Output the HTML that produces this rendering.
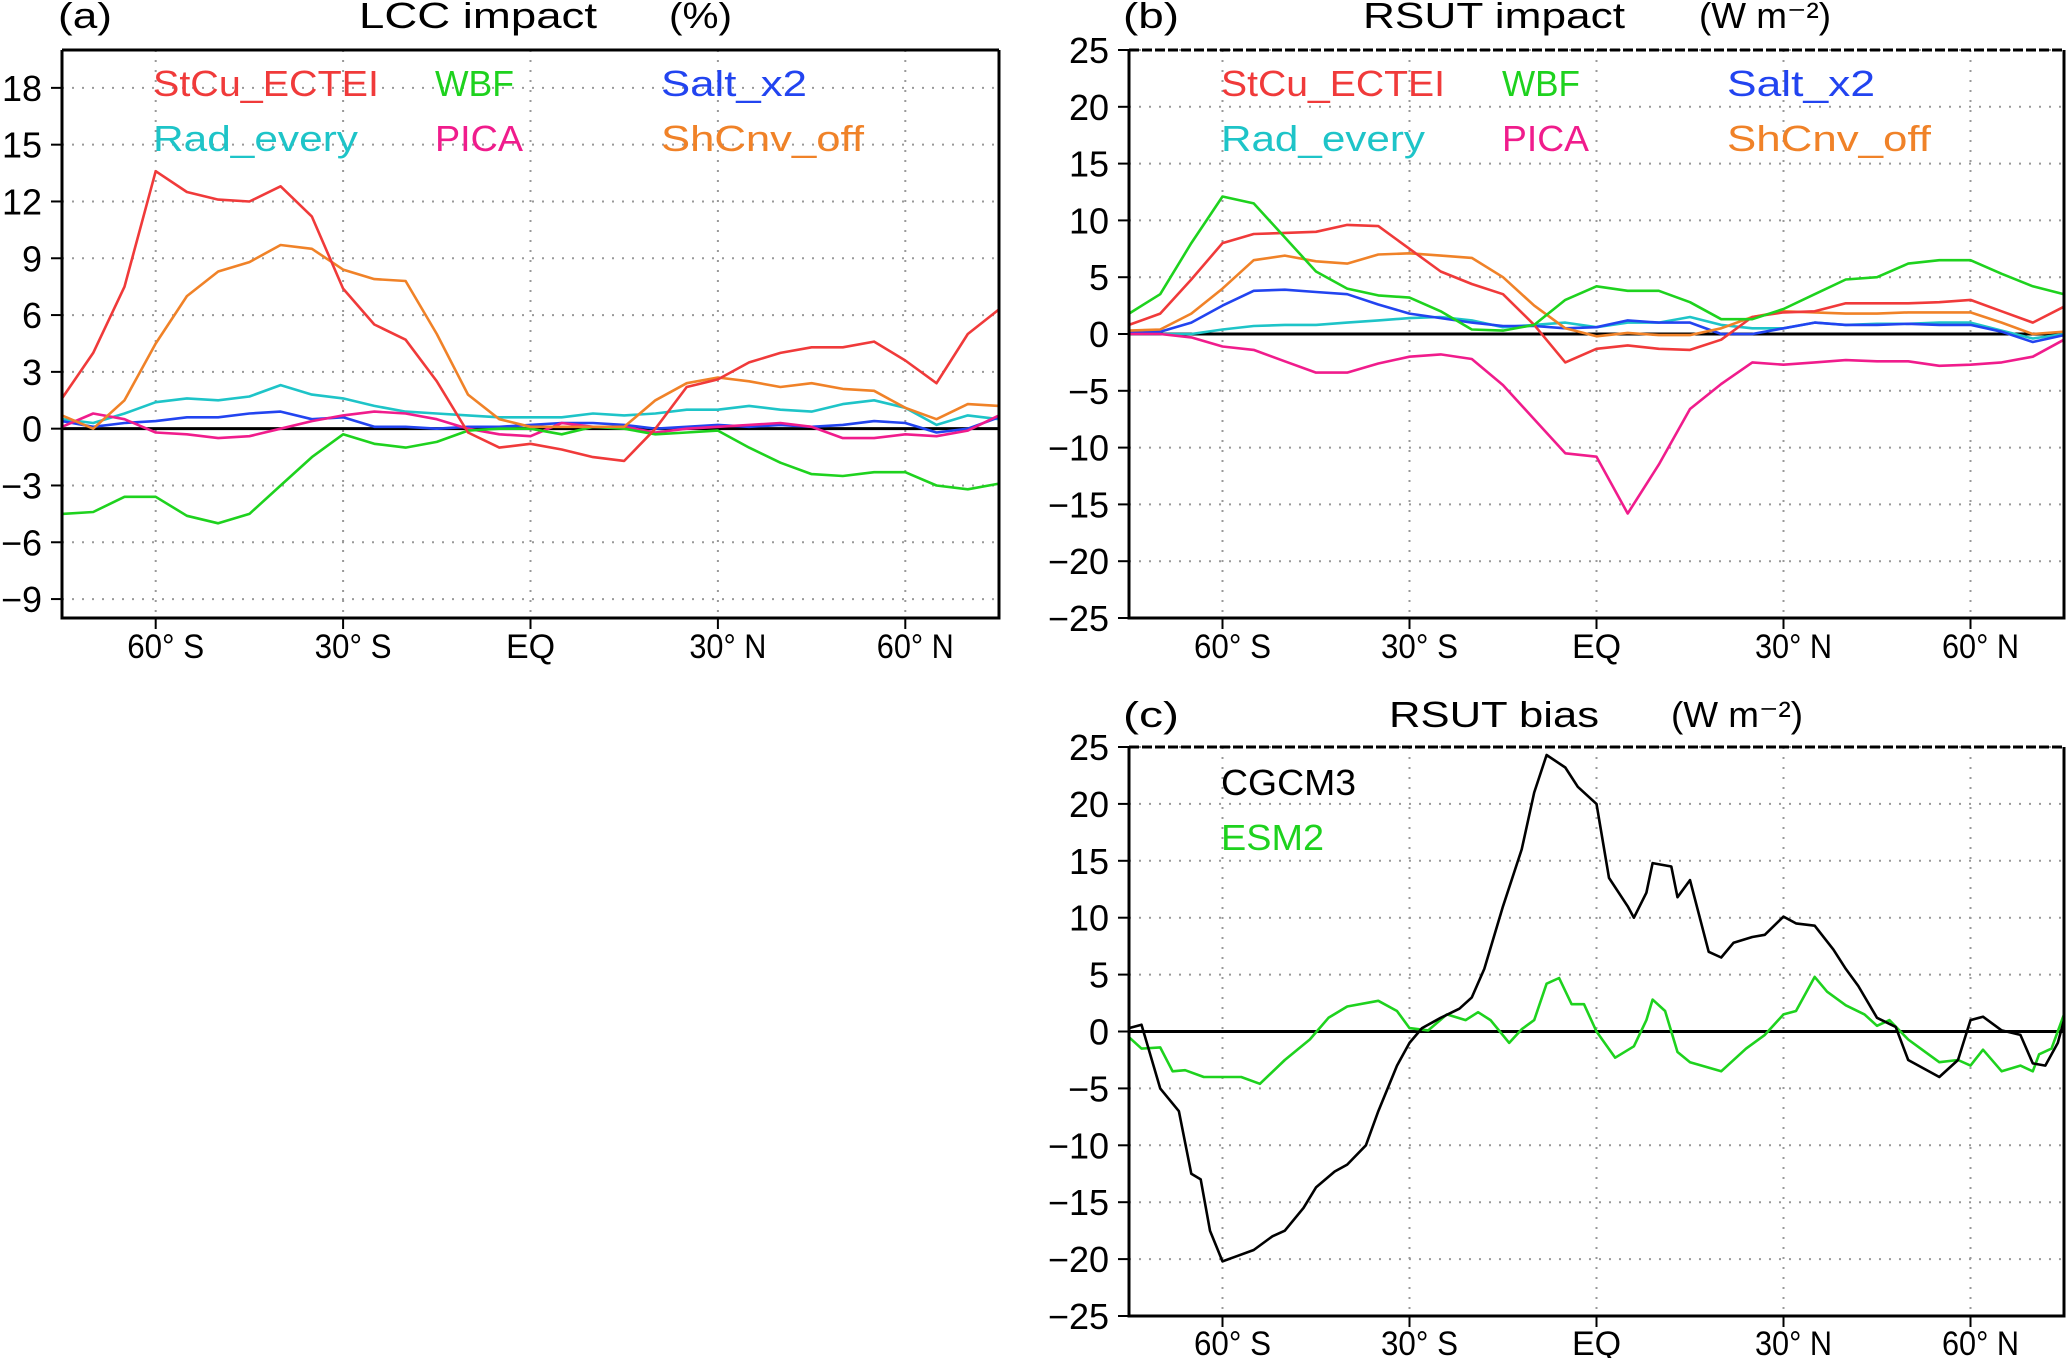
<!DOCTYPE html>
<html><head><meta charset="utf-8"><style>
html,body{margin:0;padding:0;background:#fff;}
svg text{font-family:"Liberation Sans",sans-serif;fill:#000;}
</style></head><body>
<svg id="fig" width="2067" height="1358" viewBox="0 0 2067 1358" xmlns="http://www.w3.org/2000/svg"></svg>
<script>
// ---- shared latitude grid (5 degree steps) ----
const lats5 = [-75,-70,-65,-60,-55,-50,-45,-40,-35,-30,-25,-20,-15,-10,-5,0,5,10,15,20,25,30,35,40,45,50,55,60,65,70,75];
const xTickVals = [-60,-30,0,30,60];
const xTickLabels = ["60° S","30° S","EQ","30° N","60° N"];
// ---- panel (a) LCC impact (%) ----
const aTicks = [-9,-6,-3,0,3,6,9,12,15,18];
const aStCu = [1.6,4,7.5,13.6,12.5,12.1,12.0,12.8,11.2,7.4,5.5,4.7,2.5,-0.2,-1.0,-0.8,-1.1,-1.5,-1.7,0,2.2,2.6,3.5,4.0,4.3,4.3,4.6,3.6,2.4,5,6.3];
const aWBF = [-4.5,-4.4,-3.6,-3.6,-4.6,-5.0,-4.5,-3.0,-1.5,-0.3,-0.8,-1.0,-0.7,-0.1,0.0,0.0,-0.3,0.1,0.0,-0.3,-0.2,-0.1,-1.0,-1.8,-2.4,-2.5,-2.3,-2.3,-3.0,-3.2,-2.9];
const aSalt = [0.4,0.1,0.3,0.4,0.6,0.6,0.8,0.9,0.5,0.6,0.1,0.1,0,0.1,0.1,0.2,0.3,0.3,0.2,0,0.1,0.2,0.1,0.2,0.1,0.2,0.4,0.3,-0.2,0,0.6];
const aRad = [0.5,0.3,0.8,1.4,1.6,1.5,1.7,2.3,1.8,1.6,1.2,0.9,0.8,0.7,0.6,0.6,0.6,0.8,0.7,0.8,1.0,1.0,1.2,1.0,0.9,1.3,1.5,1.1,0.2,0.7,0.5];
const aPICA = [0.1,0.8,0.5,-0.2,-0.3,-0.5,-0.4,0,0.4,0.7,0.9,0.8,0.5,0.0,-0.3,-0.4,0.3,0.1,0.1,-0.2,0,0.1,0.2,0.3,0.1,-0.5,-0.5,-0.3,-0.4,-0.1,0.7];
const aShCnv = [0.7,0,1.5,4.5,7,8.3,8.8,9.7,9.5,8.4,7.9,7.8,5.0,1.8,0.5,0.1,0.1,0.1,0.1,1.5,2.4,2.7,2.5,2.2,2.4,2.1,2.0,1.1,0.5,1.3,1.2];
// ---- panel (b) RSUT impact ----
const bTicks = [-25,-20,-15,-10,-5,0,5,10,15,20,25];
const bStCu = [0.8,1.8,4.8,8,8.8,8.9,9.0,9.6,9.5,7.5,5.5,4.4,3.5,0.8,-2.5,-1.3,-1.0,-1.3,-1.4,-0.5,1.5,1.9,2.0,2.7,2.7,2.7,2.8,3.0,2.0,1.0,2.4];
const bWBF = [1.8,3.5,8,12.1,11.5,8.5,5.5,4,3.4,3.2,2,0.4,0.3,0.8,3,4.2,3.8,3.8,2.8,1.3,1.3,2.2,3.5,4.8,5.0,6.2,6.5,6.5,5.3,4.2,3.5];
const bSalt = [0.1,0.2,1.0,2.5,3.8,3.9,3.7,3.5,2.6,1.8,1.4,1.0,0.7,0.7,0.5,0.6,1.2,1.0,1.0,0.0,0.0,0.5,1.0,0.8,0.8,0.9,0.8,0.8,0.2,-0.7,-0.1];
const bRad = [0,0,0,0.4,0.7,0.8,0.8,1.0,1.2,1.4,1.5,1.2,0.6,0.8,1.0,0.6,1.0,1.0,1.5,0.8,0.5,0.5,1.0,0.8,0.9,0.9,1.0,1.0,0.3,-0.4,0];
const bPICA = [0,0,-0.3,-1.1,-1.4,-2.4,-3.4,-3.4,-2.6,-2.0,-1.8,-2.2,-4.5,-7.5,-10.5,-10.8,-15.8,-11.5,-6.6,-4.4,-2.5,-2.7,-2.5,-2.3,-2.4,-2.4,-2.8,-2.7,-2.5,-2.0,-0.5];
const bShCnv = [0.3,0.4,1.8,4,6.5,6.9,6.4,6.2,7.0,7.1,6.9,6.7,5.0,2.5,0.5,-0.2,0.1,-0.1,-0.1,0.5,1.5,2.0,1.9,1.8,1.8,1.9,1.9,1.9,1.0,0,0.2];
// ---- panel (c) RSUT bias ----
const cLatsCG = [-75,-73,-70,-67,-65,-63.5,-62,-60,-58,-55,-52,-50,-47,-45,-42,-40,-37,-35,-32,-30,-28,-25,-22,-20,-18,-15,-12,-10,-8,-5,-3,0,2,5,6,8,9,12,13,15,18,20,22,25,27,30,32,35,38,40,42,45,48,50,55,58,60,62,65,68,70,72,74,75];
const cCGCM3 = [0.3,0.6,-5,-7,-12.5,-13,-17.5,-20.2,-19.8,-19.2,-18,-17.5,-15.5,-13.7,-12.3,-11.7,-10,-7,-3,-1,0.3,1.2,2.0,3.0,5.5,11,16,21,24.3,23.2,21.5,20,13.5,11,10,12.2,14.8,14.5,11.8,13.3,7,6.5,7.8,8.3,8.5,10.1,9.5,9.3,7.2,5.5,4,1.2,0.4,-2.5,-4.0,-2.5,1.0,1.3,0.1,-0.3,-2.8,-3,-1,1];
const cLatsES = [-75,-73,-70,-68,-66,-63,-60,-57,-54,-50,-46,-43,-40,-35,-32,-30,-27,-24,-21,-19,-17,-14,-12,-10,-8,-6,-4,-2,0,3,6,8,9,11,13,15,20,24,27,30,32,35,37,40,43,45,47,50,52,55,58,60,62,65,68,70,71,73,75];
const cESM2 = [-0.5,-1.5,-1.4,-3.5,-3.4,-4.0,-4.0,-4.0,-4.6,-2.5,-0.7,1.2,2.2,2.7,1.8,0.3,0.1,1.5,1.0,1.7,1.0,-1.0,0.2,1.0,4.2,4.7,2.4,2.4,0,-2.3,-1.3,1.0,2.8,1.8,-1.8,-2.7,-3.5,-1.5,-0.3,1.5,1.8,4.8,3.5,2.3,1.5,0.5,1.0,-0.7,-1.5,-2.7,-2.5,-3.0,-1.6,-3.5,-3.0,-3.5,-2.0,-1.5,1.5];

const NS = "http://www.w3.org/2000/svg";
const svg = document.getElementById('fig');
function el(tag, attrs, parent, txt){
  const e = document.createElementNS(NS, tag);
  for (const k in attrs) e.setAttribute(k, attrs[k]);
  if (txt !== undefined) e.textContent = txt;
  (parent||svg).appendChild(e);
  return e;
}
const COL = {red:'#f03a3a', green:'#1ed21e', blue:'#2244f0', cyan:'#1ec4c8', mag:'#f01c8c', orange:'#f08228', black:'#000'};

function panel(p){
  const g = el('g', {});
  
  
  const xs = v => p.x0 + (v - (-75)) / 150 * (p.x1 - p.x0);
  const ys = v => p.y1 - (v - p.ymin) / (p.ymax - p.ymin) * (p.y1 - p.y0);
  // gridlines
  xTickVals.forEach(v => {
    const l = el('line', {x1:xs(v), x2:xs(v), y1:p.y0, y2:p.y1, stroke:'#999', 'stroke-width':2, 'stroke-dasharray':'2 8'}, g);
    
    
  });
  p.yticks.forEach(v => {
    if (v === 0) return;
    const l = el('line', {x1:p.x0, x2:p.x1, y1:ys(v), y2:ys(v), stroke:'#999', 'stroke-width':2, 'stroke-dasharray':'2 8'}, g);
    
    
  });
  // y ticks and labels
  p.yticks.forEach(v => {
    el('line', {x1:p.x0-11, x2:p.x0, y1:ys(v), y2:ys(v), stroke:'#000', 'stroke-width':2}, g);
    const t = el('text', {x:p.x0-20, y:ys(v)+13, 'font-size':36, 'text-anchor':'end'}, g, v < 0 ? '\u2212' + Math.abs(v) : String(v));
    
    
  });
  // x ticks and labels
  xTickVals.forEach((v, i) => {
    el('line', {x1:xs(v), x2:xs(v), y1:p.y1, y2:p.y1+11, stroke:'#000', 'stroke-width':2}, g);
    const lab = xTickLabels[i];
    const isEQ = lab === 'EQ';
    const attrs = {x:xs(v) + (isEQ ? 0 : 10), y:p.xlabY, 'font-size':34, 'text-anchor':'middle'};
    if (!isEQ) { attrs.textLength = 77; attrs.lengthAdjust = 'spacingAndGlyphs'; }
    const t = el('text', attrs, g, lab);
    
    
  });
  // zero line
  const z = el('line', {x1:p.x0, x2:p.x1, y1:ys(0), y2:ys(0), stroke:'#000', 'stroke-width':3}, g);
  
  
  // series
  p.series.forEach(s => {
    const d = s.vals.map((v, i) => (i ? 'L' : 'M') + xs(s.lats[i]).toFixed(1) + ' ' + ys(v).toFixed(1)).join(' ');
    const path = el('path', {d:d, fill:'none', stroke:s.color, 'stroke-width':2.6, 'stroke-linejoin':'round'}, g);
    
    
  });
  // frame
  const f = el('path', {d:`M${p.x0} ${p.y0} L${p.x0} ${p.y1} L${p.x1} ${p.y1} L${p.x1} ${p.y0}`, fill:'none', stroke:'#000', 'stroke-width':3}, g);
  
  
  el('line', {x1:p.x0, x2:p.x1, y1:p.y0, y2:p.y0, stroke:'#000', 'stroke-width':3, 'stroke-dasharray': p.dashTop ? '10 3' : 'none'}, g);
  // titles
  p.titles.forEach(tt => {
    const t = el('text', {x:tt.x, y:tt.y, 'font-size':36, textLength:tt.w, lengthAdjust:'spacingAndGlyphs'}, g, tt.s);
    
    
  });
  // legend
  p.legend.forEach(lg => {
    const t = el('text', {x:lg.x, y:lg.y, 'font-size':36, fill:lg.c, style:'fill:'+lg.c, textLength:lg.w, lengthAdjust:'spacingAndGlyphs'}, g, lg.s);
    
    
  });
}

panel({name:'panel-a-lcc-impact', x0:62, x1:999, y0:50, y1:618, ymin:-10, ymax:20, yticks:aTicks, xlabY:658, dashTop:false,
  series:[
    {id:'rad-every', lats:lats5, vals:aRad, color:COL.cyan},
    {id:'salt-x2', lats:lats5, vals:aSalt, color:COL.blue},
    {id:'pica', lats:lats5, vals:aPICA, color:COL.mag},
    {id:'wbf', lats:lats5, vals:aWBF, color:COL.green},
    {id:'shcnv-off', lats:lats5, vals:aShCnv, color:COL.orange},
    {id:'stcu-ectei', lats:lats5, vals:aStCu, color:COL.red}],
  titles:[{s:'(a)', x:58, y:28, w:54, n:'panel-label'},{s:'LCC  impact', x:359, y:28, w:238, n:'chart-title'},{s:'(%)', x:669, y:28, w:63, n:'units-label'}],
  legend:[
    {s:'StCu_ECTEI', x:153, y:96, w:226, c:COL.red},{s:'WBF', x:435, y:96, w:79, c:COL.green},{s:'Salt_x2', x:661, y:96, w:146, c:COL.blue},
    {s:'Rad_every', x:153, y:151, w:205, c:COL.cyan},{s:'PICA', x:435, y:151, w:88, c:COL.mag},{s:'ShCnv_off', x:661, y:151, w:203, c:COL.orange}]
});

panel({name:'panel-b-rsut-impact', x0:1129, x1:2064, y0:50, y1:618, ymin:-25, ymax:25, yticks:bTicks, xlabY:658, dashTop:true,
  series:[
    {id:'rad-every', lats:lats5, vals:bRad, color:COL.cyan},
    {id:'salt-x2', lats:lats5, vals:bSalt, color:COL.blue},
    {id:'pica', lats:lats5, vals:bPICA, color:COL.mag},
    {id:'shcnv-off', lats:lats5, vals:bShCnv, color:COL.orange},
    {id:'stcu-ectei', lats:lats5, vals:bStCu, color:COL.red},
    {id:'wbf', lats:lats5, vals:bWBF, color:COL.green}],
  titles:[{s:'(b)', x:1123, y:28, w:56, n:'panel-label'},{s:'RSUT  impact', x:1363, y:28, w:262, n:'chart-title'},{s:'(W m\u207B\u00B2)', x:1699, y:28, w:132, n:'units-label'}],
  legend:[
    {s:'StCu_ECTEI', x:1221, y:96, w:224, c:COL.red},{s:'WBF', x:1502, y:96, w:78, c:COL.green},{s:'Salt_x2', x:1727, y:96, w:148, c:COL.blue},
    {s:'Rad_every', x:1221, y:151, w:204, c:COL.cyan},{s:'PICA', x:1502, y:151, w:87, c:COL.mag},{s:'ShCnv_off', x:1727, y:151, w:204, c:COL.orange}]
});

panel({name:'panel-c-rsut-bias', x0:1129, x1:2064, y0:747, y1:1316, ymin:-25, ymax:25, yticks:bTicks, xlabY:1355, dashTop:true,
  series:[
    {id:'esm2', lats:cLatsES, vals:cESM2, color:COL.green},
    {id:'cgcm3', lats:cLatsCG, vals:cCGCM3, color:COL.black}],
  titles:[{s:'(c)', x:1123, y:727, w:56, n:'panel-label'},{s:'RSUT  bias', x:1389, y:727, w:210, n:'chart-title'},{s:'(W m\u207B\u00B2)', x:1671, y:727, w:132, n:'units-label'}],
  legend:[
    {s:'CGCM3', x:1221, y:795, w:135, c:'#000'},{s:'ESM2', x:1221, y:850, w:103, c:COL.green}]
});
</script>
</body></html>
